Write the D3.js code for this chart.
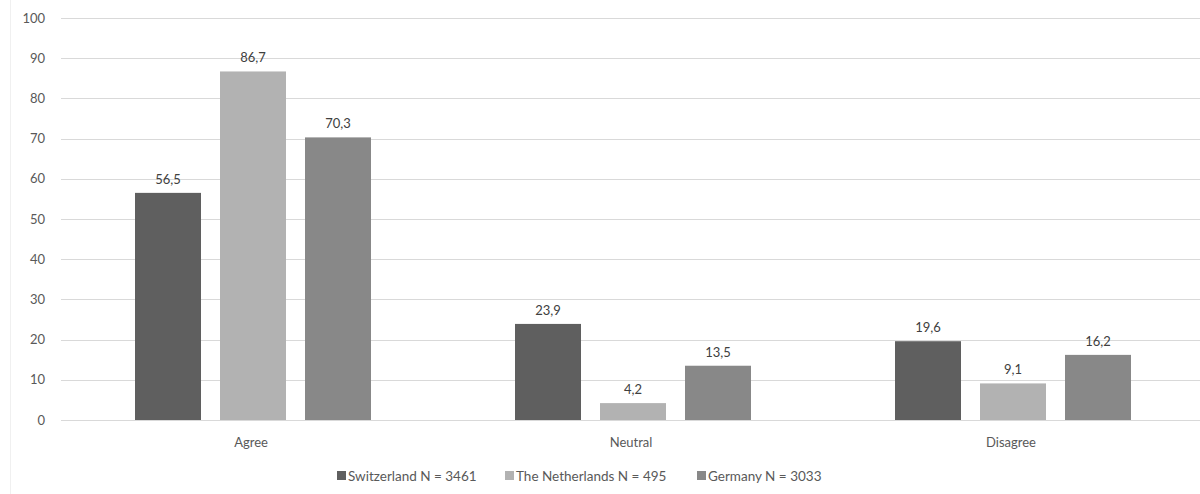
<!DOCTYPE html>
<html>
<head>
<meta charset="utf-8">
<script src="https://cdn.jsdelivr.net/npm/d3@7"></script>
<style>
body { margin: 0; background: #fff; }
text { font-family: Lato, "Open Sans", sans-serif; }
</style>
</head>
<body>
<svg id="chart" width="1200" height="494"></svg>
<script>
var categories = ['Agree', 'Neutral', 'Disagree'];
var countries = ['Switzerland N = 3461', 'The Netherlands N = 495', 'Germany N = 3033'];
var switzerland = [56.5, 23.9, 19.6];
var netherlands = [86.7, 4.2, 9.1];
var germany = [70.3, 13.5, 16.2];
var yTicks = [0, 10, 20, 30, 40, 50, 60, 70, 80, 90, 100];
var colours = ['#5f5f5f', '#b2b2b2', '#888888'];

var series = [switzerland, netherlands, germany];

var svg = d3.select('#chart');

// faint chart border on the left
svg.append('line')
	.attr('x1', 10.5).attr('x2', 10.5)
	.attr('y1', 0).attr('y2', 494)
	.attr('stroke', '#f0f0f0');

var x0 = d3.scaleBand().domain(categories).range([61, 1201]).paddingInner(0).paddingOuter(0);
var x1 = d3.scaleBand().domain(d3.range(3)).range([74, 310]).paddingInner(0.2235).paddingOuter(0);
var y = d3.scaleLinear().domain([0, 100]).range([420, 18]);

// gridlines
svg.append('g').selectAll('line').data(yTicks).enter().append('line')
	.attr('x1', 61).attr('x2', 1200)
	.attr('y1', function(d){ return Math.round(y(d)) + 0.5; })
	.attr('y2', function(d){ return Math.round(y(d)) + 0.5; })
	.attr('stroke', '#d9d9d9');

// y labels
var yAxis = d3.axisLeft(y).tickValues(yTicks).tickSize(0).tickPadding(0);
var ya = svg.append('g').attr('transform', 'translate(45,0)').call(yAxis);
ya.select('.domain').remove();
ya.selectAll('text').attr('fill', '#595959').style('font-size', '13px').style('font-family', 'Lato, sans-serif');

// bars
var groups = svg.append('g').selectAll('g').data(categories).enter().append('g')
	.attr('transform', function(d){ return 'translate(' + x0(d) + ',0)'; });

groups.selectAll('rect').data(function(d, i){
		return series.map(function(s, j){ return {k: j, val: s[i]}; });
	})
	.enter().append('rect')
	.attr('x', function(d){ return x1(d.k); })
	.attr('y', function(d){ return y(d.val); })
	.attr('width', x1.bandwidth())
	.attr('height', function(d){ return y(0) - y(d.val); })
	.attr('fill', function(d){ return colours[d.k]; });

groups.selectAll('text.val').data(function(d, i){
		return series.map(function(s, j){ return {k: j, val: s[i]}; });
	})
	.enter().append('text')
	.classed('val', true)
	.attr('x', function(d){ return x1(d.k) + x1.bandwidth() / 2; })
	.attr('y', function(d){ return y(d.val) - 9; })
	.attr('text-anchor', 'middle')
	.attr('fill', '#404040')
	.style('font-size', '13px')
	.text(function(d){ return d.val.toFixed(1).replace('.', ','); });

// category labels
var xa = svg.append('g').attr('transform', 'translate(0,420)').call(d3.axisBottom(x0).tickSize(0).tickPadding(18));
xa.select('.domain').remove();
xa.selectAll('text').attr('fill', '#595959').style('font-size', '13px').style('font-family', 'Lato, sans-serif');

// legend
var legendX = [337, 505, 697];
var legend = svg.append('g').selectAll('g').data(countries).enter().append('g')
	.attr('transform', function(d, i){ return 'translate(' + legendX[i] + ',471)'; });
legend.append('rect').attr('width', 9).attr('height', 9).attr('fill', function(d, i){ return colours[i]; });
legend.append('text').attr('x', 11).attr('y', 9.5)
	.attr('fill', '#595959').style('font-size', '13.5px')
	.text(function(d){ return d; });
</script>
</body>
</html>
